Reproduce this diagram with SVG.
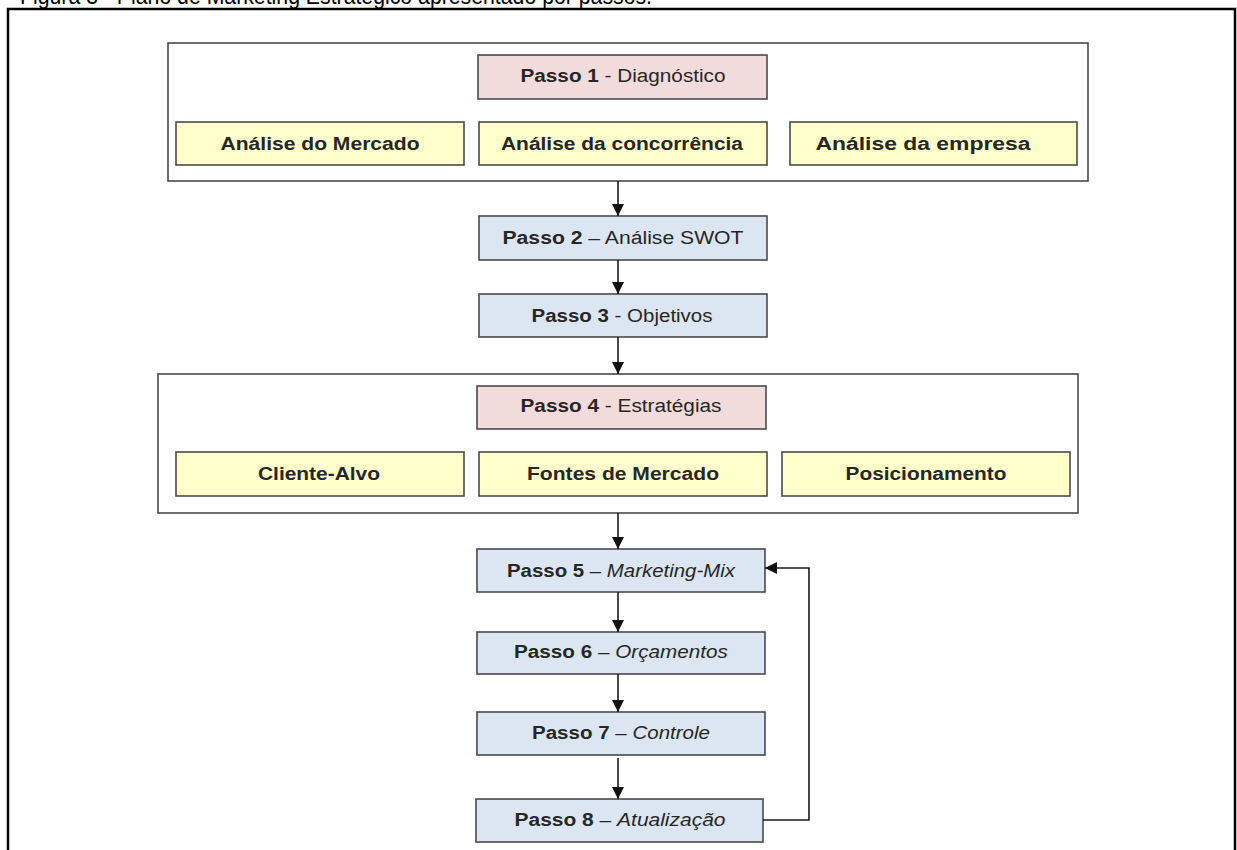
<svg xmlns="http://www.w3.org/2000/svg" width="1237" height="850" viewBox="0 0 1237 850">
  <style>
    .caption { font-family: "Liberation Sans", Arial, sans-serif; font-size: 24px; fill: #000; }
    .frame { fill: none; stroke: #000; stroke-width: 2.5; }
    .group { fill: #fff; stroke: #4a4a4a; stroke-width: 1.6; }
    .box { stroke: #4a4a4a; stroke-width: 1.6; }
    .pink { fill: #f2dcdb; }
    .yellow { fill: #ffffcc; }
    .blue { fill: #dce6f2; }
    .lbl { font-family: "Liberation Sans", Arial, sans-serif; font-size: 18px; fill: #262626; text-anchor: middle; }
    .b { font-weight: bold; }
    .it { font-style: italic; }
    .conn { fill: none; stroke: #1a1a1a; stroke-width: 1.6; }
  </style>
  <defs>
    <marker id="arrow" markerUnits="userSpaceOnUse" markerWidth="12" markerHeight="12" viewBox="0 0 12 12" refX="12" refY="6" orient="auto">
      <path d="M0,0 L12,6 L0,12 Z" fill="#111"/>
    </marker>
  </defs>

  <rect width="1237" height="850" fill="#fff"/>

  <!-- caption, partly above the page edge -->
  <text class="caption" x="20" y="4" textLength="632" lengthAdjust="spacingAndGlyphs">Figura 3 - Plano de Marketing Estratégico apresentado por passos.</text>

  <!-- outer frame, open at the bottom -->
  <path class="frame" d="M8,852 V9 H1235 V852"/>

  <!-- step 1 group -->
  <g id="passo1-grupo">
    <rect class="group" x="168" y="43" width="920" height="138"/>
  </g>
  <g id="passo1">
    <rect class="box pink" x="478" y="55" width="289" height="44"/>
    <text class="lbl" x="623" y="82" textLength="205" lengthAdjust="spacingAndGlyphs"><tspan class="b">Passo 1</tspan> - Diagnóstico</text>
  </g>
  <g id="analise-mercado">
    <rect class="box yellow" x="176" y="122" width="288" height="43"/>
    <text class="lbl b" x="320" y="150" textLength="199" lengthAdjust="spacingAndGlyphs">Análise do Mercado</text>
  </g>
  <g id="analise-concorrencia">
    <rect class="box yellow" x="479" y="122" width="288" height="43"/>
    <text class="lbl b" x="622" y="150" textLength="242" lengthAdjust="spacingAndGlyphs">Análise da concorrência</text>
  </g>
  <g id="analise-empresa">
    <rect class="box yellow" x="790" y="122" width="287" height="43"/>
    <text class="lbl b" x="923" y="150" textLength="215" lengthAdjust="spacingAndGlyphs">Análise da empresa</text>
  </g>

  <g id="passo2">
    <rect class="box blue" x="479" y="216" width="288" height="44"/>
    <text class="lbl" x="623" y="244" textLength="241" lengthAdjust="spacingAndGlyphs"><tspan class="b">Passo 2</tspan> – Análise SWOT</text>
  </g>
  <g id="passo3">
    <rect class="box blue" x="479" y="294" width="288" height="43"/>
    <text class="lbl" x="622" y="322" textLength="181" lengthAdjust="spacingAndGlyphs"><tspan class="b">Passo 3</tspan> - Objetivos</text>
  </g>

  <!-- step 4 group -->
  <g id="passo4-grupo">
    <rect class="group" x="158" y="374" width="920" height="139"/>
  </g>
  <g id="passo4">
    <rect class="box pink" x="477" y="386" width="289" height="43"/>
    <text class="lbl" x="621" y="412" textLength="201" lengthAdjust="spacingAndGlyphs"><tspan class="b">Passo 4</tspan> - Estratégias</text>
  </g>
  <g id="cliente-alvo">
    <rect class="box yellow" x="176" y="452" width="288" height="44"/>
    <text class="lbl b" x="319" y="480" textLength="122" lengthAdjust="spacingAndGlyphs">Cliente-Alvo</text>
  </g>
  <g id="fontes-mercado">
    <rect class="box yellow" x="479" y="452" width="288" height="44"/>
    <text class="lbl b" x="623" y="480" textLength="192" lengthAdjust="spacingAndGlyphs">Fontes de Mercado</text>
  </g>
  <g id="posicionamento">
    <rect class="box yellow" x="782" y="452" width="288" height="44"/>
    <text class="lbl b" x="926" y="480" textLength="161" lengthAdjust="spacingAndGlyphs">Posicionamento</text>
  </g>

  <g id="passo5">
    <rect class="box blue" x="477" y="549" width="288" height="43"/>
    <text class="lbl" x="621" y="577" textLength="228" lengthAdjust="spacingAndGlyphs"><tspan class="b">Passo 5</tspan> – <tspan class="it">Marketing-Mix</tspan></text>
  </g>
  <g id="passo6">
    <rect class="box blue" x="477" y="632" width="288" height="42"/>
    <text class="lbl" x="621" y="658" textLength="214" lengthAdjust="spacingAndGlyphs"><tspan class="b">Passo 6</tspan> – <tspan class="it">Orçamentos</tspan></text>
  </g>
  <g id="passo7">
    <rect class="box blue" x="477" y="712" width="288" height="43"/>
    <text class="lbl" x="621" y="739" textLength="178" lengthAdjust="spacingAndGlyphs"><tspan class="b">Passo 7</tspan> – <tspan class="it">Controle</tspan></text>
  </g>
  <g id="passo8">
    <rect class="box blue" x="476" y="799" width="287" height="43"/>
    <text class="lbl" x="620" y="826" textLength="211" lengthAdjust="spacingAndGlyphs"><tspan class="b">Passo 8</tspan> – <tspan class="it">Atualização</tspan></text>
  </g>

  <!-- connectors -->
  <g id="conectores">
    <path class="conn" marker-end="url(#arrow)" d="M618,181 V216"/>
    <path class="conn" marker-end="url(#arrow)" d="M618,260 V294"/>
    <path class="conn" marker-end="url(#arrow)" d="M618,337 V374"/>
    <path class="conn" marker-end="url(#arrow)" d="M618,513 V549"/>
    <path class="conn" marker-end="url(#arrow)" d="M618,592 V632"/>
    <path class="conn" marker-end="url(#arrow)" d="M618,674 V712"/>
    <path class="conn" marker-end="url(#arrow)" d="M618,758 V799"/>
    <path class="conn" marker-end="url(#arrow)" d="M763,820 H809 V568 H765"/>
  </g>
</svg>
